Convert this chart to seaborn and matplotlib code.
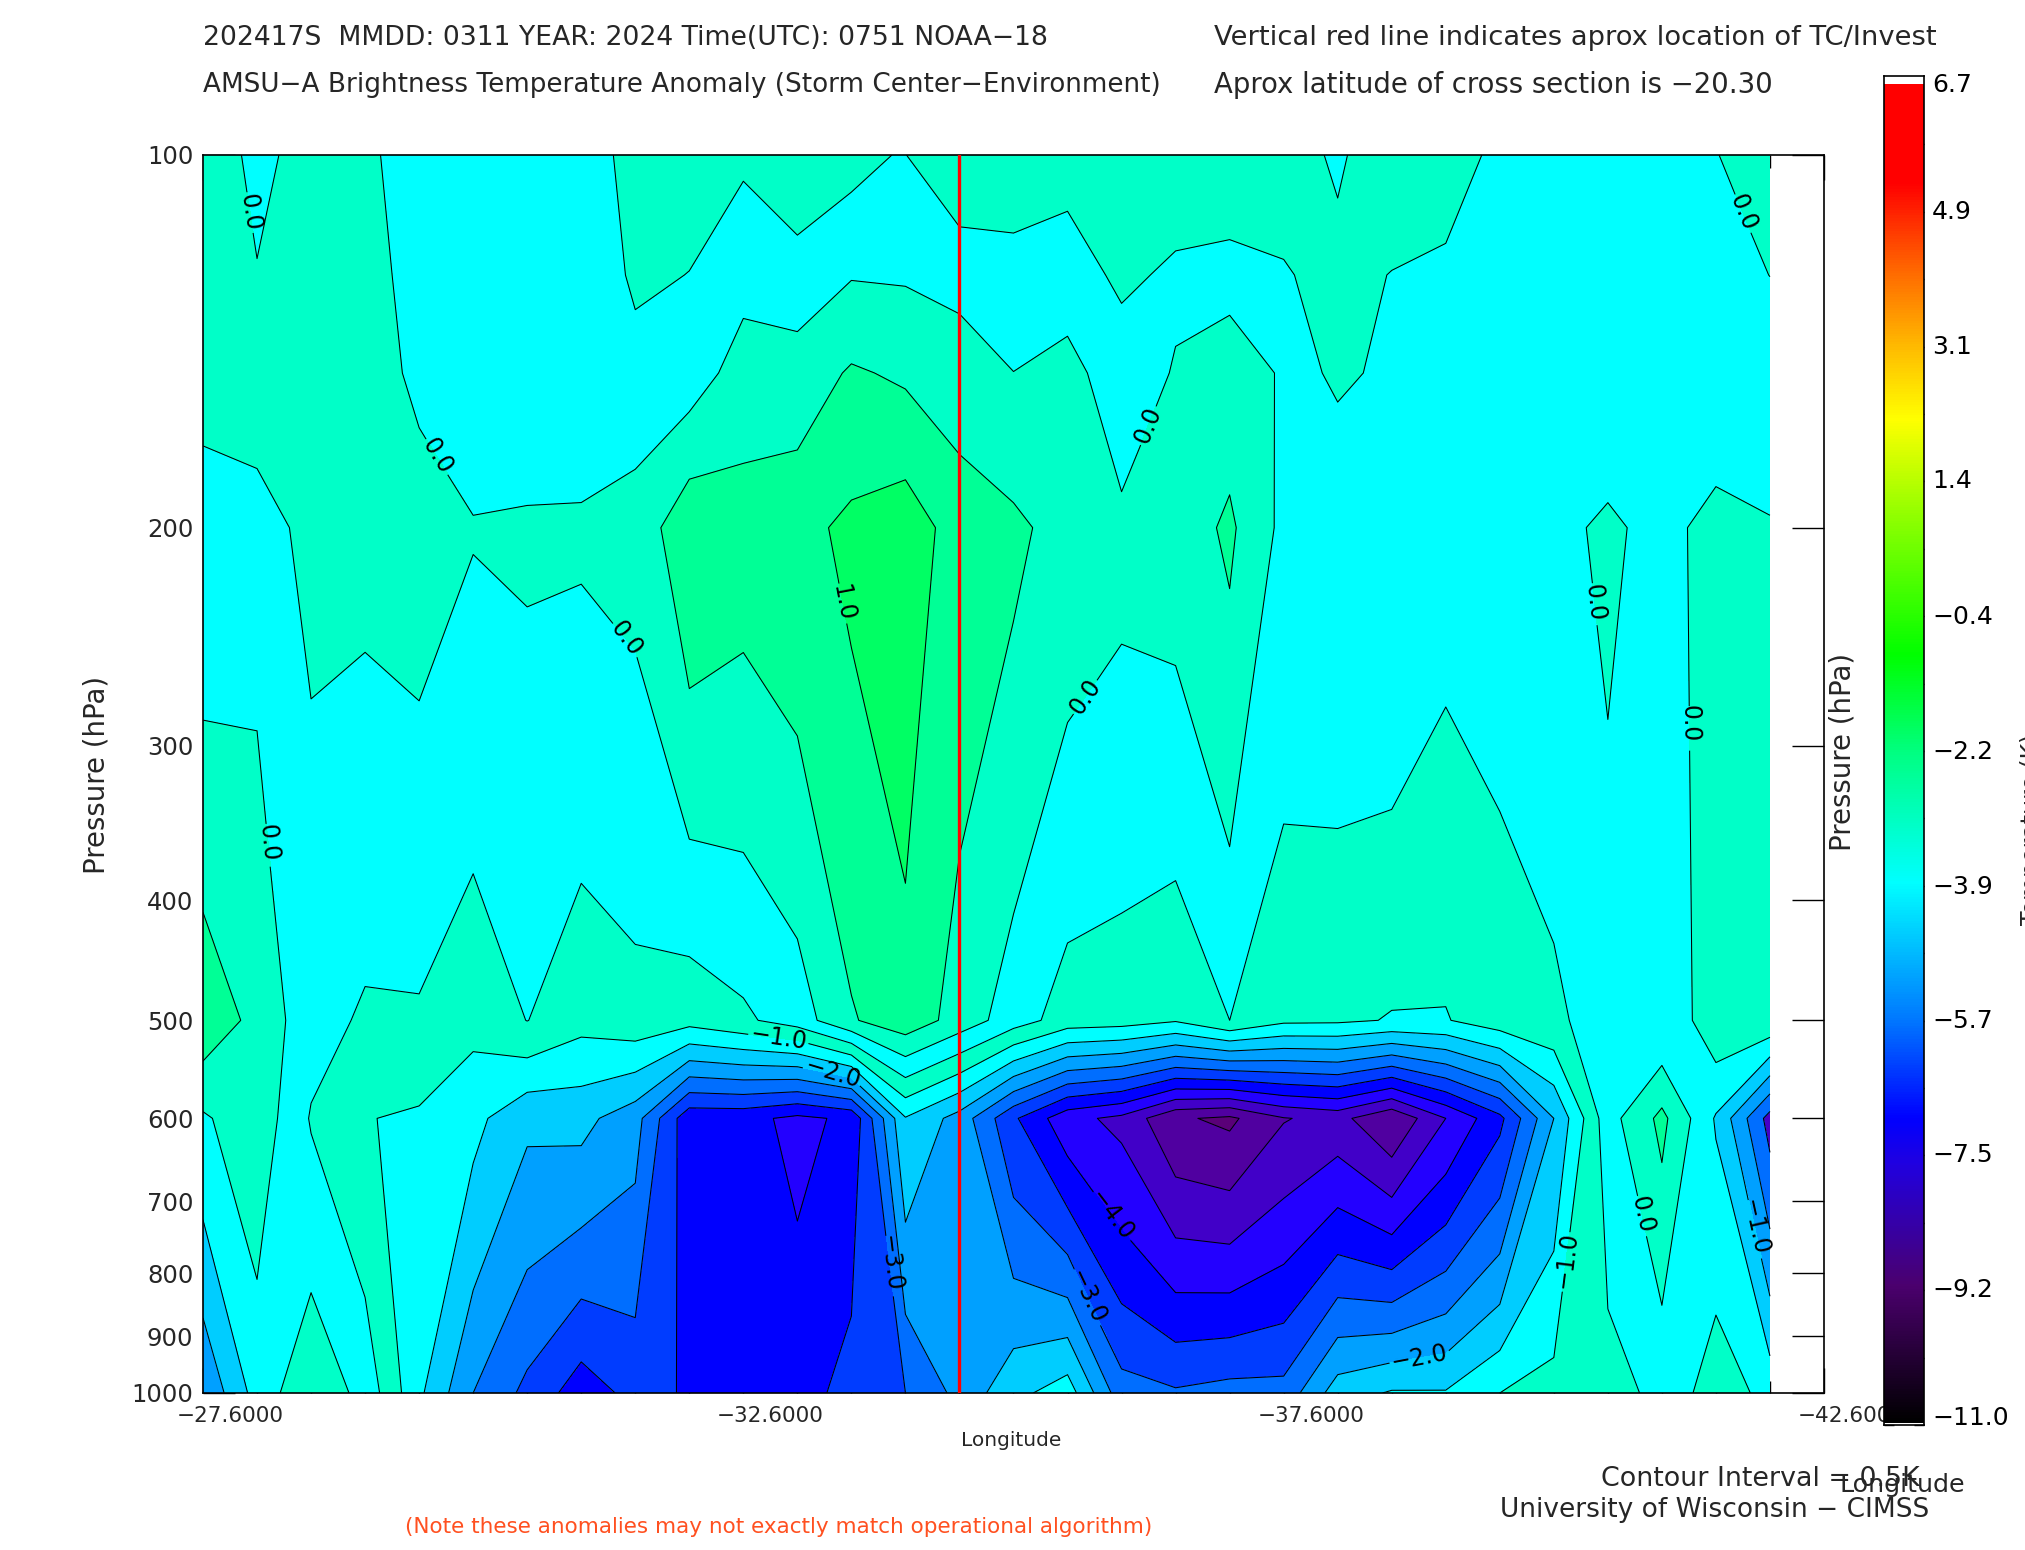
import numpy as np
import seaborn as sns
import matplotlib.pyplot as plt
from matplotlib.colors import LinearSegmentedColormap

# pressure levels of the cross section, hPa
pressure = [100, 125, 150, 200, 500, 600, 1000]

# anomaly (K) per longitude column, top to bottom
col_00 = [.42, .28, .27, -.35, .87, -.07, -1.45]
col_01 = [-.17, .03, .21, -.15, .34, .33, -.3]
col_02 = [.25, .2, .2, .1, -.3, -.54, .4]
col_03 = [.1, .15, .2, .12, -.57, -.98, -.17]
col_04 = [-.25, -.15, -.09, .19, -.56, -1.07, -1.4]
col_05 = [-.3, -.3, -.3, .03, -.85, -1.35, -2.5]
col_06 = [-.3, -.3, -.3, .058, -.49, -1.9, -3.13]
col_07 = [-.22, -.45, -.3, .067, -.84, -1.85, -3.77]
col_08 = [.15, .1, -.2, .14, -.68, -2.3, -3.34]
col_09 = [.25, -.01, -.26, .9, -.82, -3.85, -3.55]
col_10 = [.04, -.16, .22, .73, -.59, -3.85, -3.75]
col_11 = [.45, -.25, .2, .85, -.26, -4.12, -3.74]
col_12 = [.012, -.03, .56, 1.11, .45, -3.9, -3.3]
col_13 = [-.004, -.05, .42, 1.3, .82, -1.53, -3.0]
col_14 = [.2, -.15, .25, .76, .295, -2.2, -2.35]
col_15 = [.3, -.18, .003, .61, -.26, -3.42, -1.65]
col_16 = [.3, -.38, .25, .3, -.73, -4.34, -1.24]
col_17 = [.3, .16, -.43, .15, -.78, -4.63, -2.8]
col_18 = [.5, -.14, .057, .23, -.95, -5.43, -2.94]
col_19 = [.3, -.14, .22, .587, -.5, -5.6, -2.82]
col_20 = [.3, -.05, -.045, -.125, -.89, -5.03, -2.83]
col_21 = [-.1, .2, .018, -.09, -.91, -4.84, -1.74]
col_22 = [.45, -.02, -.02, -.05, -1.03, -5.45, -1.45]
col_23 = [.1, -.04, -.2, -.31, -1.03, -4.5, -1.46]
col_24 = [-.05, -.2, -.3, -.31, -.72, -3.63, -1.0]
col_25 = [-.2, -.2, -.25, -.15, -.6, -2.0, -.81]
col_26 = [-.2, -.2, -.45, .1, -.25, -.2, -.67]
col_27 = [-.2, -.2, -.2, -.18, -.49, .63, -.38]
col_28 = [-.01, -.2, -.48, .2, .38, -.55, .28]
col_29 = [.16, .005, -.3, .03, .42, -2.2, -.16]

columns = [col_00, col_01, col_02, col_03, col_04, col_05, col_06, col_07, col_08, col_09,
           col_10, col_11, col_12, col_13, col_14, col_15, col_16, col_17, col_18, col_19,
           col_20, col_21, col_22, col_23, col_24, col_25, col_26, col_27, col_28, col_29]

longitude = [-27.6 - 0.5 * i for i in range(30)]
storm_lon = -34.6

# contour bands, low to high. the original fill repeats teal and cyan
levels = [-8, -5.5, -5, -4.5, -4, -3.5, -3, -2.5, -2, -1.5, -1, -.5, 0, .5, 1, 3]
band_colors = ['#5a0078', '#5000a0', '#4100c8', '#2300ff', '#0000ff', '#003cff', '#006eff',
               '#00a0ff', '#00cdff', '#00ffff', '#00ffc8', '#00ffff', '#00ffc8', '#00ff96', '#00ff64']

# regions touching the plot edge got other fill colours in the original
left_levels = [-8, -1, -.5]
left_colors = ['#00a0ff', '#00cdff']
right_levels = [-8, -2, -1.5, -1, -.5]
right_colors = ['#4600c8', '#006eff', '#00a0ff', '#00cdff']

half_levels = [-5.5, -4.5, -3.5, -2.5, -1.5, -.5, .5]
label_levels = [-5, -4, -3, -2, -1, 0, 1]
# where the contour labels sit (lon, hPa)
label_spots = [(-28.09, 111), (-29.82, 174), (-31.44, 249), (-36.18, 163), (-35.74, 273),
               (-40.47, 230), (-41.36, 288), (-41.89, 111), (-40.94, 717), (-28.26, 359),
               (-33.52, 230), (-32.93, 513), (-40.16, 779), (-42.0, 734), (-33.43, 551),
               (-38.85, 927), (-33.97, 785), (-35.82, 833), (-36.03, 717)]

cbar_labels = ['6.7', '4.9', '3.1', '1.4', '−0.4', '−2.2', '−3.9', '−5.7', '−7.5', '−9.2', '−11.0']
cbar_min, cbar_max = -11.0, 6.7
cbar_stops = [(-11, '#000000'), (-9.2, '#4b006e'), (-7.6, '#2000e0'), (-7.0, '#0000ff'), (-5.7, '#0078ff'),
              (-3.9, '#00ffff'), (-2.2, '#00ff82'), (-0.9, '#00ff00'), (1.0, '#96ff00'), (2.2, '#ffff00'),
              (3.1, '#ffbe00'), (4.2, '#ff6400'), (5.3, '#ff0000'), (6.61, '#ff0000'), (6.62, '#ffffff'), (6.7, '#ffffff')]

W, H = 2025, 1550


def fx(x):
    return x / W


def fy(y):
    return 1 - y / H


sns.set_theme(style='white')
plt.rcParams['font.family'] = ['DejaVu Sans']

fig = plt.figure(figsize=(W / 100, H / 100), dpi=100)
ax = fig.add_axes([fx(203), fy(1393), 1621 / W, 1238 / H])

anomaly = np.array(columns).T
lon = np.array(longitude)
pres = np.array(pressure)

ax.set_xlim(-27.6, -42.6)
ax.set_yscale('log')
ax.set_ylim(1000, 100)

ax.contourf(lon, pres, anomaly, levels=levels, colors=band_colors, antialiased=False)
ax.contourf(lon[:2], pres[5:], anomaly[5:, :2], levels=left_levels, colors=left_colors, antialiased=False)
ax.contourf(lon[28:], pres[4:], anomaly[4:, 28:], levels=right_levels, colors=right_colors, antialiased=False)
ax.contour(lon, pres, anomaly, levels=half_levels, colors='black', linewidths=0.75, linestyles='solid')
lines = ax.contour(lon, pres, anomaly, levels=label_levels, colors='black', linewidths=0.75, linestyles='solid')
ax.clabel(lines, manual=label_spots, inline=True, inline_spacing=2, fontsize=17,
          fmt=lambda v: f'{v:.1f}'.replace('-', '−'))
ax.plot([storm_lon, storm_lon], [100, 1000], color='red', lw=2.4, zorder=5)

# axis cosmetics
for s in ax.spines.values():
    s.set_visible(True)
    s.set_color('black')
    s.set_linewidth(1.2)

ax.set_yticks(list(range(100, 1001, 100)))
ax.set_yticklabels([str(v) for v in range(100, 1001, 100)], fontsize=17.5)
ax.minorticks_off()
ax.tick_params(axis='y', which='major', direction='in', length=23, width=1, left=True, right=True, pad=7, color='black')
major_lon = [-27.6, -32.6, -37.6, -42.6]
ax.set_xticks(major_lon)
ax.set_xticklabels([])
ax.set_xticks(np.arange(-28.1, -42.2, -0.5), minor=True)
ax.tick_params(axis='x', which='major', direction='in', length=18, width=1, top=True, bottom=True, color='black')
ax.tick_params(axis='x', which='minor', direction='in', length=9, width=1, top=True, bottom=True, color='black')
for v in major_lon:
    ax.annotate(f'{v:.4f}'.replace('-', '−'), xy=(v, 0), xycoords=('data', 'axes fraction'), xytext=(19.5, -9),
                textcoords='offset points', ha='center', va='top', fontsize=15.5, annotation_clip=False)

# colorbar, a one column heatmap
cax = fig.add_axes([fx(1884), fy(1425), 40 / W, 1349 / H])
n_steps = 512
grad = np.linspace(cbar_max, cbar_min, n_steps).reshape(-1, 1)
cb_cmap = LinearSegmentedColormap.from_list(
    'amsu', [((v - cbar_min) / (cbar_max - cbar_min), c) for v, c in cbar_stops], N=512)
sns.heatmap(grad, ax=cax, cmap=cb_cmap, vmin=cbar_min, vmax=cbar_max, cbar=False,
            xticklabels=False, yticklabels=False)
for s in cax.spines.values():
    s.set_visible(True)
    s.set_color('black')
    s.set_linewidth(1.2)
cb_major = [(212 - 76) + 135 * i for i in range(-1, 10)]
cb_major = [max(0, p) for p in cb_major]
cax.set_yticks([p / 1349 * n_steps for p in cb_major[1:]])
cax.set_yticks([(p + 67.5) / 1349 * n_steps for p in cb_major[1:-1]] + [68.5 / 1349 * n_steps], minor=True)
cax.set_yticklabels([])
cax.tick_params(axis='y', which='major', direction='in', length=7, width=1, left=True, right=True, color='black')
cax.tick_params(axis='y', which='minor', direction='in', length=3.5, width=1, left=True, right=True, color='black')
for label, y in zip(cbar_labels, [85, 212, 347, 481, 617, 752, 887, 1021, 1155, 1290, 1418]):
    fig.text(fx(1932), fy(y), label, fontsize=18, va='center', ha='left', color='black')

# header and footer
fig.text(fx(203), fy(38), '202417S  MMDD: 0311 YEAR: 2024 Time(UTC): 0751 NOAA−18', fontsize=19.2, va='center')
fig.text(fx(203), fy(85), 'AMSU−A Brightness Temperature Anomaly (Storm Center−Environment)', fontsize=18.9, va='center')
fig.text(fx(1214), fy(38), 'Vertical red line indicates aprox location of TC/Invest', fontsize=19.7, va='center')
fig.text(fx(1214), fy(85), 'Aprox latitude of cross section is −20.30', fontsize=19.8, va='center')
fig.text(fx(96), fy(775), 'Pressure (hPa)', fontsize=19.8, rotation=90, va='center', ha='center')
fig.text(fx(1843), fy(752), 'Pressure (hPa)', fontsize=19.8, rotation=90, va='center', ha='center')
fig.text(fx(1011), fy(1441), 'Longitude', fontsize=14.5, va='center', ha='center')
fig.text(fx(1920), fy(1479), 'Contour Interval = 0.5K', fontsize=19.4, va='center', ha='right')
fig.text(fx(1840), fy(1485), 'Longitude', fontsize=18.3, va='center', ha='left')
fig.text(fx(1929), fy(1510), 'University of Wisconsin − CIMSS', fontsize=19, va='center', ha='right')
fig.text(fx(405), fy(1527), '(Note these anomalies may not exactly match operational algorithm)', fontsize=15.5,
         color='#ff5020', va='center', ha='left')
fig.text(fx(2020), fy(925), 'Temperature (K)', fontsize=17, rotation=90, va='bottom', ha='left')

fig.savefig('out.png', dpi=100)
